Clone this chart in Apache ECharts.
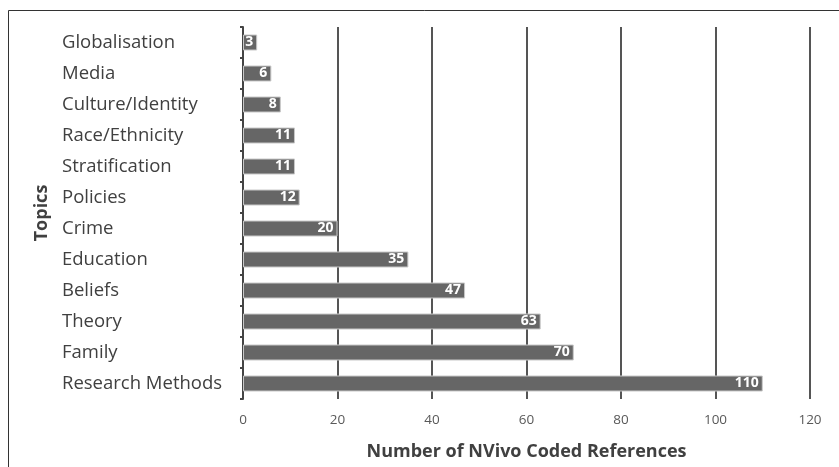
<!DOCTYPE html>
<html>
<head>
<meta charset="utf-8">
<script src="https://cdn.jsdelivr.net/npm/echarts@6/dist/echarts.min.js"></script>
<style>
  html, body { margin: 0; padding: 0; background: #fff; }
  #chart { width: 839px; height: 467px; }
</style>
</head>
<body>
<div id="chart"></div>
<script>
// topics listed bottom to top (category axis starts at the bottom)
const topics = ['Research Methods', 'Family', 'Theory', 'Beliefs', 'Education', 'Crime',
  'Policies', 'Stratification', 'Race/Ethnicity', 'Culture/Identity', 'Media', 'Globalisation']
const references = [110, 70, 63, 47, 35, 20, 12, 11, 11, 8, 6, 3]
const xTicks = [0, 20, 40, 60, 80, 100, 120]

const chart = echarts.init(document.getElementById('chart'))

const option = {
  animation: false,
  backgroundColor: '#fff',
  textStyle: { fontFamily: 'Open Sans' },
  graphic: [
    {
      type: 'rect',
      shape: { x: 8.5, y: 10.5, width: 900, height: 600 },
      style: { fill: 'none', stroke: '#333', lineWidth: 1 },
      silent: true
    }
  ],
  grid: {
    left: 243,
    right: 29,
    top: 27,
    bottom: 68
  },
  xAxis: {
    type: 'value',
    min: xTicks[0],
    max: xTicks[xTicks.length - 1],
    interval: 20,
    name: 'Number of NVivo Coded References',
    nameLocation: 'middle',
    nameGap: 44,
    nameTextStyle: { fontSize: 18, fontWeight: 'bold', color: '#404040' },
    axisLine: { show: false },
    axisTick: { show: false },
    axisLabel: { color: '#595959', fontSize: 13.5, margin: 14 },
    splitLine: { show: true, lineStyle: { color: '#555', width: 2 } }
  },
  yAxis: {
    type: 'category',
    data: topics,
    name: 'Topics',
    nameLocation: 'middle',
    nameGap: 191,
    nameRotate: 90,
    nameTextStyle: { fontSize: 18, fontWeight: 'bold', color: '#404040' },
    axisLine: { show: true, lineStyle: { color: '#444', width: 2 } },
    axisTick: { show: true, length: 3, lineStyle: { color: '#444', width: 2 } },
    axisLabel: { color: '#404040', fontSize: 18.5, align: 'left', margin: 181 }
  },
  series: [
    {
      type: 'bar',
      data: references,
      barWidth: 16,
      itemStyle: { color: '#666', borderColor: '#c8c8c8', borderWidth: 1 },
      label: {
        show: true,
        position: 'insideRight',
        distance: 4,
        color: '#fff',
        fontWeight: 'bold',
        fontSize: 14
      }
    }
  ]
}

chart.setOption(option)
</script>
</body>
</html>
